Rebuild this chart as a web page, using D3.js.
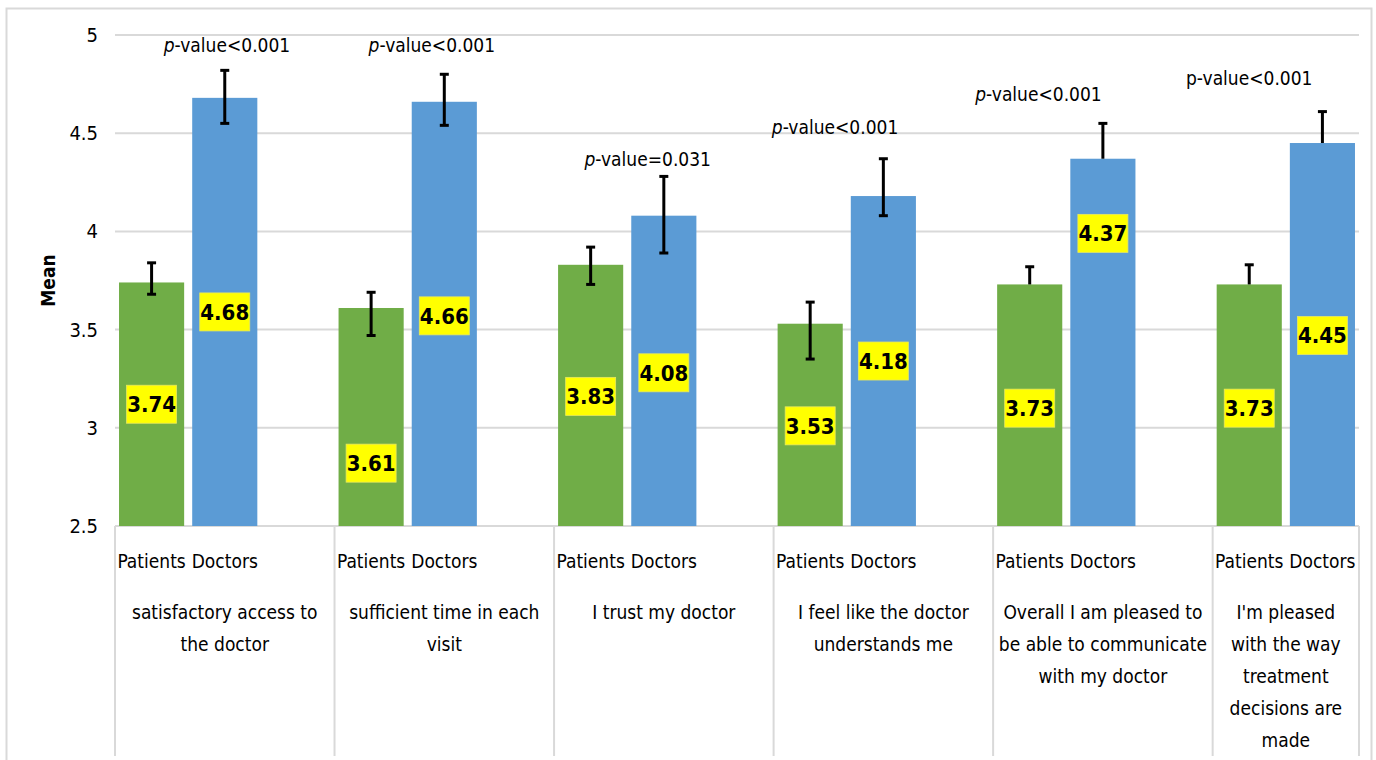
<!DOCTYPE html>
<html>
<head>
<meta charset="utf-8">
<script src="https://cdn.jsdelivr.net/npm/d3@7"></script>
<style>
  html, body { margin: 0; padding: 0; background: #fff; }
  svg { display: block; }
  text { font-family: "Liberation Sans Narrow", "DejaVu Sans Condensed", "Open Sans", sans-serif; fill: #000; }
</style>
</head>
<body>
<svg id="chart" width="1376" height="760"></svg>
<script>
// ---------------- data ----------------
const categories = [
  ["satisfactory access to", "the doctor"],
  ["sufficient time in each", "visit"],
  ["I trust my doctor"],
  ["I feel like the doctor", "understands me"],
  ["Overall I am pleased to", "be able to communicate", "with my doctor"],
  ["I'm pleased", "with the way", "treatment", "decisions are", "made"]
];
const seriesNames = ["Patients", "Doctors"];
const patients = [3.74, 3.61, 3.83, 3.53, 3.73, 3.73];
const doctors  = [4.68, 4.66, 4.08, 4.18, 4.37, 4.45];
const patientsErrLow  = [3.68, 3.47, 3.73, 3.35, null, null];
const patientsErrHigh = [3.84, 3.69, 3.92, 3.64, 3.82, 3.83];
const doctorsErrLow   = [4.55, 4.54, 3.89, 4.08, null, null];
const doctorsErrHigh  = [4.82, 4.80, 4.28, 4.37, 4.55, 4.61];
const pValues = ["<0.001", "<0.001", "=0.031", "<0.001", "<0.001", "<0.001"];
const yTicks = [2.5, 3, 3.5, 4, 4.5, 5];

// label placement (in value units / slot units)
const patientsLabelAt = [3.12, 2.82, 3.16, 3.01, 3.10, 3.10];
const doctorsLabelAt  = [3.59, 3.57, 3.28, 3.34, 3.99, 3.47];
const pLabelValue = [4.95, 4.95, 4.37, 4.53, 4.70, 4.78];
const pLabelSlot  = [1.53, 1.33, 1.28, 0.84, 0.62, 0.50];

// ---------------- layout ----------------
const svg = d3.select("#chart");
const plot = { left: 115, right: 1359, top: 35, bottom: 526 };
const gridColor = "#d9d9d9";
const green = "#70AD47", blue = "#5B9BD5";

// outer frame
svg.append("rect")
  .attr("x", 6.5).attr("y", 8.5).attr("width", 1365).attr("height", 780)
  .attr("fill", "#fff").attr("stroke", gridColor).attr("stroke-width", 2);

const y = d3.scaleLinear().domain([2.5, 5]).range([plot.bottom, plot.top]);

// slots: P, D, (gap) per group; last group no gap
const slots = [];
categories.forEach((c, i) => {
  slots.push(i + "-P", i + "-D");
  if (i < categories.length - 1) slots.push(i + "-gap");
});
const x = d3.scaleBand().domain(slots).range([plot.left, plot.right])
  .paddingInner(0.11).paddingOuter(0.055);
const step = x.step();
const half = (step - x.bandwidth()) / 2;
const groupStart = i => x(i + "-P") - half;
const groupEnd = i => i < categories.length - 1 ? groupStart(i + 1) : plot.right;

// gridlines
svg.append("g").selectAll("line").data(yTicks).join("line")
  .attr("x1", plot.left).attr("x2", plot.right)
  .attr("y1", d => y(d)).attr("y2", d => y(d))
  .attr("stroke", gridColor).attr("stroke-width", 2);

// y axis labels
const yAxis = d3.axisLeft(y).tickValues(yTicks).tickSize(0).tickPadding(17)
  .tickFormat(d3.format("~g"));
const gy = svg.append("g").attr("transform", `translate(${plot.left},0)`).call(yAxis);
gy.select(".domain").remove();
gy.selectAll("text").attr("font-size", 20).attr("font-family", null).attr("fill", "#000");

// y title
svg.append("text")
  .attr("transform", `translate(55,${(plot.top + plot.bottom) / 2}) rotate(-90)`)
  .attr("text-anchor", "middle").attr("font-size", 19).attr("font-weight", "bold")
  .text("Mean");

// category separators
const seps = categories.map((c, i) => groupStart(i)).concat([plot.right]);
svg.append("g").selectAll("line").data(seps).join("line")
  .attr("x1", d => d).attr("x2", d => d)
  .attr("y1", plot.bottom).attr("y2", 756)
  .attr("stroke", gridColor).attr("stroke-width", 2);

// bars
const barData = [];
categories.forEach((c, i) => {
  barData.push({ g: i, s: "P", v: patients[i], lo: patientsErrLow[i], hi: patientsErrHigh[i], lab: patientsLabelAt[i], color: green });
  barData.push({ g: i, s: "D", v: doctors[i], lo: doctorsErrLow[i], hi: doctorsErrHigh[i], lab: doctorsLabelAt[i], color: blue });
});

svg.append("g").selectAll("rect").data(barData).join("rect")
  .attr("x", d => x(d.g + "-" + d.s))
  .attr("width", x.bandwidth())
  .attr("y", d => y(d.v))
  .attr("height", d => y(2.5) - y(d.v))
  .attr("fill", d => d.color);

// error bars
const eb = svg.append("g").attr("stroke", "#000").attr("stroke-width", 3);
barData.forEach(d => {
  const cx = x(d.g + "-" + d.s) + x.bandwidth() / 2;
  const lo = d.lo == null ? d.v : d.lo;
  eb.append("line").attr("x1", cx).attr("x2", cx).attr("y1", y(d.hi)).attr("y2", y(lo));
  eb.append("line").attr("x1", cx - 4.5).attr("x2", cx + 4.5).attr("y1", y(d.hi)).attr("y2", y(d.hi));
  if (d.lo != null)
    eb.append("line").attr("x1", cx - 4.5).attr("x2", cx + 4.5).attr("y1", y(d.lo)).attr("y2", y(d.lo));
});

// data labels
const lg = svg.append("g");
barData.forEach(d => {
  const cx = x(d.g + "-" + d.s) + x.bandwidth() / 2;
  const cy = y(d.lab);
  lg.append("rect").attr("x", cx - 25).attr("y", cy - 19).attr("width", 50).attr("height", 38)
    .attr("fill", "#ffff00").attr("stroke", "#e8e860").attr("stroke-width", 0.8);
  lg.append("text").attr("x", cx).attr("y", cy + 8).attr("text-anchor", "middle")
    .attr("font-size", 22).attr("font-weight", "bold").text(d3.format(".2f")(d.v));
});

// series labels under bars
barData.forEach(d => {
  const cx = x(d.g + "-" + d.s) + x.bandwidth() / 2;
  svg.append("text").attr("x", cx).attr("y", plot.bottom + 42).attr("text-anchor", "middle")
    .attr("font-size", 19).text(d.s === "P" ? seriesNames[0] : seriesNames[1]);
});

// category labels
categories.forEach((lines, i) => {
  const cx = (groupStart(i) + groupEnd(i)) / 2;
  const t = svg.append("text").attr("text-anchor", "middle").attr("font-size", 19);
  lines.forEach((ln, k) => {
    t.append("tspan").attr("x", cx).attr("y", 619 + k * 32).text(ln);
  });
});

// p-value labels
pValues.forEach((p, i) => {
  const px = groupStart(i) + pLabelSlot[i] * step;
  const t = svg.append("text").attr("x", px).attr("y", y(pLabelValue[i]) + 7)
    .attr("text-anchor", "middle").attr("font-size", 19);
  t.append("tspan").attr("font-style", i === 5 ? "normal" : "italic").text("p");
  t.append("tspan").text("-value" + p);
});
</script>
</body>
</html>
